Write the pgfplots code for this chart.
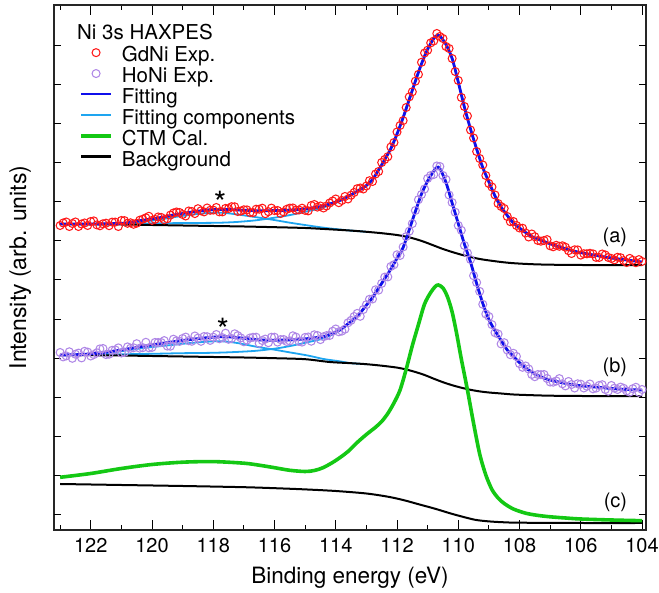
\documentclass[border=0pt]{standalone}
\usepackage{fontspec}
\setmainfont{TeX Gyre Heros}
\usepackage{pgfplots}
\pgfplotsset{compat=1.18}
\definecolor{gdred}{RGB}{255,25,25}
\definecolor{hopurple}{RGB}{175,135,230}
\definecolor{fitblue}{RGB}{15,15,235}
\definecolor{compblue}{RGB}{30,165,240}
\definecolor{ctmgreen}{RGB}{20,200,20}
\begin{document}
\begin{tikzpicture}
\begin{axis}[
  name=ax, at={(0,0)}, anchor=south west,
  width=592pt, height=525pt, scale only axis,
  x dir=reverse, xmin=103.87, xmax=123.2, ymin=0, ymax=525,
  xtick={104,106,...,122}, minor xtick={105,107,...,123},
  ytick=\empty,
  extra y ticks={15.5,54.6,93.7,132.8,171.9,211.0,250.1,289.2,328.3,367.4,406.5,445.6,484.7},
  extra y tick labels={},
  extra tick style={major tick length=7pt},
  tick align=inside, major tick length=10pt, minor tick length=5pt,
  tick style={black, line width=0.9pt},
  axis line style={black!85, line width=1.1pt},
  /pgf/number format/assume math mode=true,
  tick label style={font=\fontsize{20}{24}\selectfont},
  xticklabel style={anchor=base, yshift=-22.3pt},
  xlabel={Binding energy (eV)},
  xlabel style={at={(axis description cs:0.5,-0.101)}, anchor=base, font=\fontsize{22.5}{26}\selectfont},
  ylabel={Intensity (arb. units)},
  ylabel style={at={(axis description cs:-0.047,0.5)}, anchor=base, font=\fontsize{23}{26}\selectfont},
  legend style={draw=none, fill=none, inner sep=0pt, outer sep=0pt,
    at={(axis description cs:0.0427,0.9196)}, anchor=north west,
    row sep=0pt, font=\fontsize{20.5}{24}\selectfont,
    nodes={inner sep=0pt, text height=14.5pt, text depth=6.4pt},
    /tikz/every odd column/.style={column sep=9pt}},
  legend cell align=left,
  gdstyle/.style={only marks, mark=o, mark size=4pt, gdred, mark options={line width=1.05pt}, forget plot},
  hostyle/.style={only marks, mark=o, mark size=4pt, hopurple, mark options={line width=1.05pt}, forget plot},
]
% ---------- experimental data (a) GdNi ----------
\addplot[gdstyle] coordinates {
(123.0,304.5)(122.8,308.0)(122.6,306.5)(122.4,303.5)(122.2,307.0)(122.0,308.5)(121.8,305.1)(121.6,306.2)(121.4,304.3)(121.2,307.9)
(121.0,309.5)(120.8,306.7)(120.6,305.7)(120.4,309.8)(120.2,312.2)(120.0,309.6)(119.8,313.0)(119.6,310.2)(119.4,314.9)(119.2,318.0)
(119.0,315.5)(118.8,319.0)(118.6,316.4)(118.4,319.2)(118.2,322.0)(118.0,319.9)(117.8,318.1)(117.6,321.6)(117.4,323.3)(117.2,318.5)
(117.0,320.2)(116.8,317.5)(116.6,320.8)(116.4,321.8)(116.2,318.3)(116.0,319.4)(115.8,316.5)(115.6,320.7)(115.4,322.0)(115.2,320.0)
(115.0,319.6)(114.8,324.5)(114.6,322.9)(114.4,322.0)(114.2,327.0)(114.0,331.0)(113.8,329.5)(113.6,331.0)(113.4,337.5)(113.2,342.0)
(113.0,344.0)(112.9,349.3)(112.8,348.5)(112.7,356.0)(112.6,358.5)(112.5,367.5)(112.4,370.5)(112.3,373.3)(112.2,383.0)(112.1,387.5)
(112.0,398.0)(111.9,404.5)(111.8,409.4)(111.7,422.5)(111.6,433.1)(111.5,438.2)(111.4,448.8)(111.3,455.6)(111.2,467.7)(111.1,477.0)
(111.0,479.8)(110.9,487.1)(110.8,489.0)(110.7,496.5)(110.6,493.5)(110.5,491.5)(110.4,483.5)(110.3,481.5)(110.2,471.5)(110.1,458.5)
(110.0,449.5)(109.9,432.5)(109.8,423.5)(109.7,414.0)(109.6,400.0)(109.5,392.0)(109.4,378.5)(109.3,371.5)(109.2,365.0)(109.1,354.5)
(109.0,346.5)(108.9,343.0)(108.8,335.0)(108.7,326.5)(108.6,323.5)(108.5,321.5)(108.4,313.5)(108.3,308.3)(108.2,308.5)(108.0,302.0)
(107.8,297.0)(107.6,296.0)(107.4,289.5)(107.2,289.5)(107.0,284.2)(106.8,284.7)(106.6,284.2)(106.4,279.3)(106.2,280.2)(106.0,274.9)
(105.8,276.2)(105.6,276.1)(105.4,272.5)(105.2,275.0)(105.0,271.5)(104.8,272.7)(104.6,269.4)(104.4,271.6)(104.2,267.3)(104.0,268.5)
};
\addplot[gdstyle] coordinates {
(122.9,307.0)(122.7,303.5)(122.5,308.0)(122.3,306.0)(122.1,304.5)(121.9,309.1)(121.7,304.2)(121.5,306.8)(121.3,307.9)(121.1,303.5)
(120.9,309.4)(120.7,307.2)(120.5,306.8)(120.3,310.8)(120.1,313.7)(119.9,310.6)(119.7,312.6)(119.5,311.3)(119.3,317.0)(119.1,317.5)
(118.9,314.0)(118.7,318.5)(118.5,321.3)(118.3,318.1)(118.1,319.7)(117.9,322.5)(117.7,318.1)(117.5,321.5)(117.3,323.2)(117.1,318.9)
(116.9,320.1)(116.7,317.4)(116.5,320.8)(116.3,316.3)(116.1,321.9)(115.9,319.5)(115.7,318.1)(115.5,321.9)(115.3,319.8)(115.1,321.8)
(114.9,319.1)(114.7,325.5)(114.5,324.0)(114.3,324.0)(114.1,329.0)(113.9,327.3)(113.7,333.5)(113.5,334.8)(113.3,341.3)(113.1,341.0)
(108.1,304.5)(107.9,301.8)(107.7,293.0)(107.5,293.3)(107.3,288.8)(107.1,290.4)(106.9,283.2)(106.7,283.7)(106.5,282.8)(106.3,276.5)
(106.1,280.1)(105.9,276.3)(105.7,276.7)(105.5,272.6)(105.3,276.0)(105.1,272.5)(104.9,270.1)(104.7,272.3)(104.5,267.5)(104.3,269.7)
(104.1,270.4)
};
% ---------- experimental data (b) HoNi ----------
\addplot[hostyle] coordinates {
(123.0,177.5)(122.8,174.1)(122.6,171.7)(122.4,176.9)(122.2,178.7)(122.0,174.0)(121.8,177.2)(121.6,181.5)(121.4,175.8)(121.2,180.1)
(121.0,177.0)(120.8,183.1)(120.6,182.2)(120.4,181.8)(120.2,187.7)(120.0,182.6)(119.8,187.5)(119.6,189.4)(119.4,183.8)(119.2,189.2)
(119.0,191.5)(118.8,189.3)(118.6,194.0)(118.4,188.7)(118.2,193.3)(118.0,192.8)(117.8,191.2)(117.6,196.8)(117.4,191.5)(117.2,194.4)
(117.0,188.2)(116.8,192.0)(116.6,192.8)(116.4,189.5)(116.2,187.3)(116.0,192.8)(115.8,190.4)(115.6,188.5)(115.4,194.2)(115.2,188.6)
(115.0,192.6)(114.8,188.8)(114.6,194.5)(114.4,193.3)(114.2,194.5)(114.0,201.0)(113.8,198.9)(113.6,207.2)(113.4,213.5)(113.2,213.7)
(113.0,225.3)(112.9,230.7)(112.8,231.0)(112.7,240.2)(112.6,239.9)(112.5,246.6)(112.4,252.9)(112.3,253.1)(112.2,263.5)(112.1,265.3)
(112.0,275.2)(111.9,274.5)(111.8,283.0)(111.7,293.4)(111.6,298.8)(111.5,306.4)(111.4,319.5)(111.3,330.3)(111.2,335.5)(111.1,341.0)
(111.0,351.5)(110.9,354.5)(110.8,355.5)(110.7,364.0)(110.6,363.5)(110.5,354.5)(110.4,350.5)(110.3,335.0)(110.2,327.5)(110.1,317.8)
(110.0,304.5)(109.9,299.7)(109.8,284.5)(109.7,277.0)(109.6,270.5)(109.5,254.3)(109.4,247.5)(109.3,238.6)(109.2,225.7)(109.1,216.0)
(109.0,213.5)(108.9,205.4)(108.8,197.3)(108.7,196.0)(108.6,186.1)(108.5,187.3)(108.4,180.0)(108.3,175.3)(108.2,176.7)(108.0,166.4)
(107.8,164.0)(107.6,155.5)(107.4,155.5)(107.2,155.5)(107.0,148.0)(106.8,149.0)(106.6,146.2)(106.4,148.5)(106.2,142.0)(106.0,145.8)
(105.8,143.7)(105.6,141.2)(105.4,144.6)(105.2,140.5)(105.0,144.5)(104.8,140.5)(104.6,141.7)(104.4,137.9)(104.2,142.7)(104.0,140.5)
};
\addplot[hostyle] coordinates {
(122.9,173.1)(122.7,178.2)(122.5,175.8)(122.3,172.1)(122.1,177.9)(121.9,175.4)(121.7,181.1)(121.5,175.4)(121.3,179.7)(121.1,182.1)
(120.9,177.6)(120.7,181.7)(120.5,186.3)(120.3,182.3)(120.1,182.2)(119.9,187.6)(119.7,187.5)(119.5,183.9)(119.3,190.8)(119.1,188.6)
(118.9,192.9)(118.7,188.7)(118.5,191.9)(118.3,193.5)(118.1,189.6)(117.9,195.5)(117.7,192.3)(117.5,190.7)(117.3,196.2)(117.1,192.1)
(116.9,189.9)(116.7,192.7)(116.5,186.7)(116.3,190.9)(116.1,192.8)(115.9,187.9)(115.7,190.5)(115.5,189.1)(115.3,192.9)(115.1,187.9)
(114.9,193.0)(114.7,195.2)(114.5,190.4)(114.3,194.4)(114.1,198.8)(113.9,198.2)(113.7,200.8)(113.5,209.6)(113.3,216.6)(113.1,220.5)
(108.1,173.6)(107.9,162.7)(107.7,161.0)(107.5,153.3)(107.3,155.3)(107.1,151.5)(106.9,147.8)(106.7,151.4)(106.5,144.1)(106.3,145.5)
(106.1,146.2)(105.9,142.0)(105.7,146.0)(105.5,141.9)(105.3,145.3)(105.1,138.8)(104.9,141.8)(104.7,142.9)(104.5,139.1)(104.3,141.3)
(104.1,137.6)
};
% ---------- fitting components (a) ----------
\addplot[compblue, line width=1.8pt, smooth, forget plot] coordinates {
(123.0,306.0)(122.0,305.8)(121.0,306.1)(120.7,306.75)(120.4,308.0)(119.8,310.2)(119.3,312.8)(118.8,314.9)(118.2,317.0)(117.7,317.2)
(117.2,315.5)(116.6,312.8)(116.0,309.95)(115.5,307.3)(114.9,304.5)(114.4,302.3)(113.9,300.6)(113.5,299.4)(113.0,298.2)
};
\addplot[compblue, line width=1.8pt, smooth, forget plot] coordinates {
(123.0,306.0)(122.0,306.1)(121.0,306.3)(120.4,306.5)(119.8,306.7)(119.3,306.85)(118.8,307.0)(118.2,307.1)(117.7,307.35)(117.2,308.1)
(116.6,309.7)(116.0,312.3)(115.5,314.9)(114.9,318.9)(114.4,322.6)(113.9,328.4)(113.6,333.5)(113.4,337.0)(113.2,340.5)(113.0,344.5)
(112.8,350.5)(112.6,360.0)(112.4,370.5)(112.2,381.5)(112.0,396.0)(111.8,412.4)(111.6,430.6)(111.4,448.8)(111.2,466.2)(111.0,480.8)
(110.8,491.5)(110.7,494.5)(110.6,494.0)(110.4,485.5)(110.2,471.5)(110.0,448.0)(109.8,423.0)(109.6,401.0)(109.4,381.0)(109.2,362.5)
(109.0,348.0)(108.8,334.0)(108.6,323.0)(108.4,314.5)(108.2,307.0)(108.0,302.0)(107.6,293.5)(107.2,288.5)(106.8,284.2)(106.4,280.3)
(106.0,277.4)(105.4,274.0)(104.8,271.2)(104.0,268.0)
};
% ---------- fitting components (b) ----------
\addplot[compblue, line width=1.8pt, smooth, forget plot] coordinates {
(123.0,175.0)(122.0,175.5)(121.0,178.8)(120.4,181.5)(119.8,183.6)(119.3,185.2)(118.8,186.8)(118.2,188.3)(117.7,188.7)(117.2,186.9)
(116.6,183.3)(116.0,180.3)(115.5,177.6)(114.9,174.4)(114.4,171.0)(113.9,168.8)(113.5,166.8)(113.0,165.8)
};
\addplot[compblue, line width=1.8pt, smooth, forget plot] coordinates {
(123.0,175.0)(122.0,175.3)(121.0,175.7)(120.4,176.0)(119.8,176.3)(119.3,176.65)(118.8,176.9)(118.2,177.1)(117.7,177.45)(117.2,178.1)
(116.6,179.2)(116.0,181.3)(115.5,183.9)(114.9,187.9)(114.4,191.6)(113.9,198.7)(113.6,206.2)(113.4,211.0)(113.2,217.2)(113.0,224.8)
(112.8,232.5)(112.6,241.9)(112.4,251.4)(112.2,261.0)(112.0,271.7)(111.8,282.5)(111.6,300.3)(111.4,318.5)(111.2,336.0)(111.0,349.0)
(110.8,359.0)(110.7,362.5)(110.6,361.5)(110.4,347.5)(110.2,327.0)(110.0,306.5)(109.8,286.0)(109.6,268.0)(109.4,246.5)(109.2,226.7)
(109.0,210.5)(108.8,199.3)(108.6,189.6)(108.4,180.0)(108.2,173.7)(108.0,167.4)(107.6,158.0)(107.2,152.0)(106.8,148.5)(106.4,146.0)
(106.0,144.3)(105.4,142.6)(104.8,141.0)(104.0,140.0)
};
% ---------- backgrounds ----------
\addplot[black, line width=2pt, smooth, forget plot] coordinates {
(123.0,306.0)(122.0,305.8)(121.0,305.5)(120.0,305.0)(119.0,304.5)(118.0,304.0)(117.0,303.5)(116.0,302.8)(115.0,302.0)(114.2,300.7)
(113.5,299.4)(113.0,298.2)(112.5,296.8)(112.0,295.0)(111.7,293.3)(111.4,291.0)(111.1,288.0)(110.8,284.5)(110.5,281.0)(110.2,278.0)
(109.9,275.3)(109.6,273.0)(109.3,271.0)(109.0,269.6)(108.6,268.0)(108.2,266.8)(107.6,265.8)(107.0,265.3)(106.0,265.0)(104.0,264.8)
};
\addplot[black, line width=2pt, smooth, forget plot] coordinates {
(123.0,175.0)(122.0,174.8)(121.0,174.5)(120.0,174.0)(119.0,173.5)(118.0,173.0)(117.0,172.5)(116.0,171.8)(115.0,170.8)(114.2,168.0)
(113.5,166.8)(113.0,165.8)(112.5,164.3)(112.0,162.4)(111.7,160.5)(111.4,158.0)(111.1,155.0)(110.8,151.3)(110.5,147.8)(110.2,144.8)
(109.9,142.3)(109.6,140.2)(109.3,138.6)(109.0,137.5)(108.6,136.5)(108.2,135.5)(107.6,134.8)(107.0,134.3)(106.0,134.0)(104.0,133.8)
};
\addplot[black, line width=2pt, smooth, forget plot] coordinates {
(123.0,46.0)(121.0,45.0)(119.0,44.0)(117.0,42.8)(115.9,41.7)(115.0,40.6)(114.0,39.0)(113.0,36.5)(112.3,33.3)(111.8,30.0)
(111.3,25.8)(110.75,21.2)(110.3,17.0)(109.9,13.6)(109.45,10.2)(109.0,8.6)(108.5,7.7)(108.0,7.3)(106.0,7.0)(104.0,7.0)
};
% ---------- fits ----------
\addplot[fitblue, line width=2.8pt, smooth, forget plot] coordinates {
(123.0,306.0)(122.6,306.0)(122.2,306.0)(121.8,306.1)(121.4,306.3)(121.0,306.5)(120.8,307.2)(120.6,308.2)(120.4,309.3)(120.2,310.2)
(120.0,311.1)(119.8,312.0)(119.6,313.2)(119.4,314.4)(119.2,315.5)(119.0,316.5)(118.8,317.5)(118.6,318.4)(118.4,319.2)(118.2,320.0)
(118.0,320.4)(117.8,320.6)(117.6,320.6)(117.4,320.3)(117.2,320.0)(117.0,319.7)(116.8,319.5)(116.6,319.3)(116.4,319.3)(116.2,319.3)
(116.0,319.4)(115.8,319.5)(115.6,319.7)(115.4,320.0)(115.2,320.5)(115.0,321.1)(114.8,322.0)(114.6,322.9)(114.4,324.0)(114.2,326.0)
(114.0,328.0)(113.8,330.5)(113.6,333.5)(113.4,337.0)(113.2,340.5)(113.0,344.5)(112.8,350.5)(112.6,360.0)(112.4,370.5)(112.2,381.5)
(112.0,396.0)(111.8,412.4)(111.6,430.6)(111.4,448.8)(111.2,466.2)(111.0,480.8)(110.8,491.5)(110.7,494.5)(110.6,494.0)(110.4,485.5)
(110.2,471.5)(110.0,448.0)(109.8,423.0)(109.6,401.0)(109.4,381.0)(109.2,362.5)(109.0,348.0)(108.8,334.0)(108.6,323.0)(108.4,314.5)
(108.2,307.0)(108.0,302.0)(107.8,297.5)(107.6,293.5)(107.4,291.0)(107.2,288.5)(107.0,286.2)(106.6,282.2)(106.2,278.7)(105.8,276.2)
(105.4,274.0)(105.0,272.0)(104.6,270.4)(104.2,268.8)(104.0,268.0)
};
\addplot[fitblue, line width=2.8pt, smooth, forget plot] coordinates {
(123.0,175.0)(122.6,175.2)(122.2,175.7)(121.8,176.7)(121.4,178.3)(121.0,180.0)(120.6,182.2)(120.2,184.2)(119.8,186.0)(119.4,187.8)
(119.0,189.5)(118.6,191.0)(118.2,192.3)(117.8,193.2)(117.6,193.3)(117.4,193.0)(117.0,191.7)(116.6,190.3)(116.2,189.8)(115.8,189.9)
(115.4,190.2)(115.0,191.1)(114.6,192.5)(114.4,193.3)(114.2,195.5)(114.0,198.0)(113.8,201.4)(113.6,206.2)(113.4,211.0)(113.2,217.2)
(113.0,224.8)(112.8,232.5)(112.6,241.9)(112.4,251.4)(112.2,261.0)(112.0,271.7)(111.8,282.5)(111.6,300.3)(111.4,318.5)(111.2,336.0)
(111.0,349.0)(110.8,359.0)(110.7,362.5)(110.6,361.5)(110.4,347.5)(110.2,327.0)(110.0,306.5)(109.8,286.0)(109.6,268.0)(109.4,246.5)
(109.2,226.7)(109.0,210.5)(108.8,199.3)(108.6,189.6)(108.4,180.0)(108.2,173.7)(108.0,167.4)(107.8,162.0)(107.6,158.0)(107.4,154.5)
(107.2,152.0)(107.0,150.0)(106.6,147.2)(106.2,145.0)(105.8,143.7)(105.4,142.6)(105.0,141.5)(104.6,140.7)(104.0,140.0)
};
% ---------- CTM calculation (c) ----------
\addplot[ctmgreen, line width=3.6pt, smooth, forget plot] coordinates {
(123.0,52.7)(122.0,56.5)(121.0,61.5)(120.0,65.5)(119.0,67.8)(118.0,68.4)(117.0,66.8)(116.5,64.8)(116.0,62.3)(115.5,59.7)
(115.0,58.5)(114.7,59.5)(114.4,62.5)(114.0,69.5)(113.6,78.5)(113.3,87.5)(113.0,95.5)(112.7,102.8)(112.5,108.5)(112.3,116.5)
(112.1,127.0)(111.9,140.0)(111.7,160.8)(111.5,184.3)(111.3,205.4)(111.1,226.0)(110.9,237.5)(110.75,243.5)(110.65,245.0)(110.5,242.0)
(110.35,233.0)(110.2,218.0)(110.05,196.0)(109.9,171.0)(109.7,140.0)(109.5,106.7)(109.3,76.0)(109.1,55.0)(108.9,40.5)(108.7,32.0)
(108.5,26.5)(108.2,21.0)(107.8,16.8)(107.4,14.6)(107.0,13.2)(106.5,12.0)(106.0,11.0)(105.0,10.0)(104.0,9.3)
};
% ---------- legend ----------
\addlegendimage{legend image code/.code={\draw[gdred, line width=1.05pt] (15pt,5pt) circle[radius=4pt];}}
\addlegendentry{GdNi Exp.}
\addlegendimage{legend image code/.code={\draw[hopurple, line width=1.05pt] (15pt,5pt) circle[radius=4pt];}}
\addlegendentry{HoNi Exp.}
\addlegendimage{legend image code/.code={\draw[fitblue, line width=2.8pt] (0pt,5.5pt) -- (30pt,5.5pt);}}
\addlegendentry{Fitting}
\addlegendimage{legend image code/.code={\draw[compblue, line width=2.4pt] (0pt,5.5pt) -- (30pt,5.5pt);}}
\addlegendentry{Fitting components}
\addlegendimage{legend image code/.code={\draw[ctmgreen, line width=3.6pt] (0pt,5.5pt) -- (30pt,5.5pt);}}
\addlegendentry{CTM Cal.}
\addlegendimage{legend image code/.code={\draw[black, line width=2.4pt] (0pt,5.5pt) -- (30pt,5.5pt);}}
\addlegendentry{Background}
% ---------- annotations ----------
\node[anchor=base west, inner sep=0pt, font=\fontsize{20.5}{24}\selectfont] at (axis cs:122.45,490) {Ni 3s HAXPES};
\node[anchor=base east, inner sep=0pt, font=\fontsize{20}{24}\selectfont] at (axis cs:104.48,287.2) {(a)};
\node[anchor=base east, inner sep=0pt, font=\fontsize{20}{24}\selectfont] at (axis cs:104.48,157.2) {(b)};
\node[anchor=base east, inner sep=0pt, font=\fontsize{20}{24}\selectfont] at (axis cs:104.48,22.2) {(c)};
\node[inner sep=0pt, font=\fontsize{32}{34}\selectfont] at (axis cs:117.78,327) {*};
\node[inner sep=0pt, font=\fontsize{32}{34}\selectfont] at (axis cs:117.69,200) {*};
\end{axis}
\pgfresetboundingbox
\useasboundingbox (-54pt,-63pt) rectangle (605pt,530pt);
\end{tikzpicture}
\end{document}
